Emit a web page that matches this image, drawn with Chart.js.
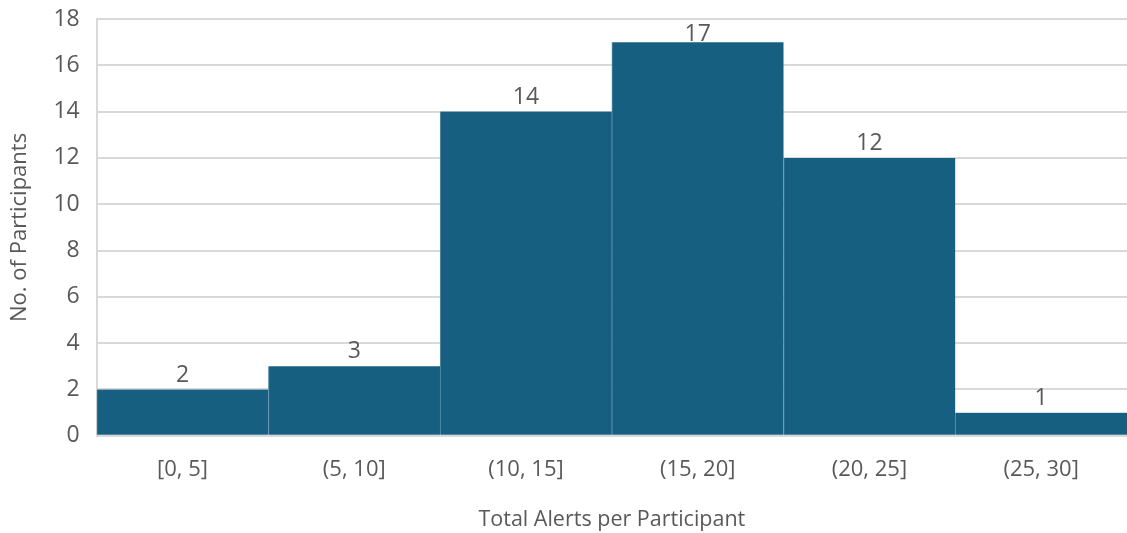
<!DOCTYPE html>
<html>
<head>
<meta charset="utf-8">
<script src="https://cdn.jsdelivr.net/npm/chart.js@4"></script>
<style>
  html, body { margin: 0; padding: 0; background: #fff; }
  #wrap { width: 1127px; height: 533px; }
</style>
</head>
<body>
<div id="wrap"><canvas id="myChart"></canvas></div>
<script>
var bins = ["[0, 5]", "(5, 10]", "(10, 15]", "(15, 20]", "(20, 25]", "(25, 30]"];
var participants = [2, 3, 14, 17, 12, 1];
var yTicks = [0, 2, 4, 6, 8, 10, 12, 14, 16, 18];

// value labels above each bar, kept inside the plot area
var barLabels = {
  id: "barLabels",
  afterDatasetsDraw: function (chart) {
    var ctx = chart.ctx;
    var meta = chart.getDatasetMeta(0);
    var area = chart.chartArea;
    ctx.save();
    ctx.font = "23px 'Open Sans'";
    ctx.fillStyle = "#595959";
    ctx.textAlign = "center";
    ctx.textBaseline = "middle";
    meta.data.forEach(function (bar, i) {
      var y = Math.max(bar.y - 14.5, area.top + 15);
      ctx.fillText(String(participants[i]), bar.x, y);
    });
    ctx.restore();
  }
};

var ctx = document.getElementById("myChart");
var myChart = new Chart(ctx, {
  type: "bar",
  data: {
    labels: bins,
    datasets: [{
      data: participants,
      backgroundColor: "#175f80",
      borderColor: "#5a8ea8",
      borderWidth: { left: 1, right: 0, top: 0, bottom: 0 },
      borderSkipped: false,
      barPercentage: 1,
      categoryPercentage: 1
    }]
  },
  options: {
    responsive: true,
    maintainAspectRatio: false,
    animation: false,
    layout: { padding: { top: 19, right: 0, left: 7, bottom: 0 } },
    plugins: {
      legend: { display: false },
      tooltip: { enabled: false }
    },
    scales: {
      x: {
        grid: { display: false, drawTicks: false },
        border: { color: "#d9d9d9", width: 2 },
        ticks: { color: "#595959", font: { family: "'Open Sans'", size: 22 }, padding: 21 },
        title: {
          display: true,
          text: "Total Alerts per Participant",
          color: "#595959",
          font: { family: "'Open Sans'", size: 21.5 },
          padding: { top: 3, bottom: 0 }
        }
      },
      y: {
        min: 0,
        max: 18,
        afterBuildTicks: function (axis) {
          axis.ticks = yTicks.map(function (v) { return { value: v }; });
        },
        afterFit: function (axis) {
          // let the layout padding decide where the top gridline sits
          axis.paddingTop = 0;
        },
        grid: { color: "#d9d9d9", lineWidth: 2, drawTicks: false },
        border: { color: "#d9d9d9", width: 2 },
        ticks: { color: "#595959", font: { family: "'Open Sans'", size: 23 }, padding: 17 },
        title: {
          display: true,
          text: "No. of Participants",
          color: "#595959",
          font: { family: "'Open Sans'", size: 22 },
          padding: { top: 0, bottom: 3 }
        }
      }
    }
  },
  plugins: [barLabels]
});
</script>
</body>
</html>
